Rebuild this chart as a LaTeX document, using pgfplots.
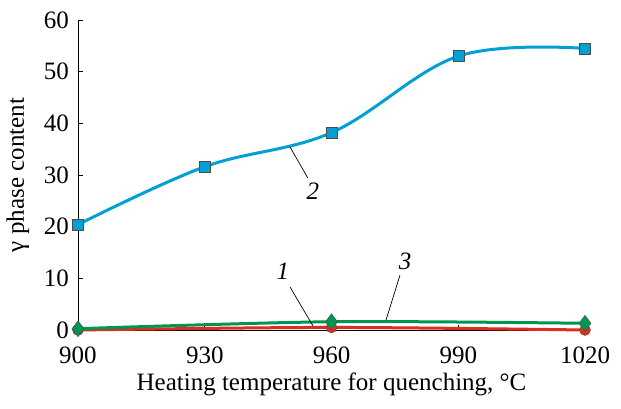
\documentclass[border=0pt]{standalone}
\usepackage{pgfplots}
\pgfplotsset{compat=1.18}
\usepackage{fontspec}
\setmainfont{Liberation Serif}
\definecolor{cblue}{RGB}{0,160,212}
\definecolor{cgreen}{RGB}{0,150,80}
\definecolor{cred}{RGB}{220,45,30}
\begin{document}
\begin{tikzpicture}
\begin{axis}[
  scale only axis, width=507pt, height=310pt,
  xmin=900, xmax=1020, ymin=0, ymax=60,
  axis lines=left, axis line style={-, line width=0.8pt},
  tick align=inside, major tick length=5pt, tick style={black, line width=0.8pt},
  xtick={900,930,960,990,1020}, ytick={0,10,...,60},
  /pgf/number format/assume math mode=true,
  /pgf/number format/set thousands separator={},
  tick label style={font=\fontsize{25}{28}\selectfont},
  label style={font=\fontsize{25}{28}\selectfont},
  xticklabel style={inner sep=1pt, yshift=-16pt},
  yticklabel style={inner sep=1pt, xshift=-8pt},
  xlabel={Heating temperature for quenching, °C},
  ylabel={γ phase content},
  xlabel style={yshift=-4pt},
  ylabel style={yshift=10pt},
  clip=false,
]
\addplot[cred, line width=3pt, smooth, mark=*, mark size=5.5pt, mark options={fill=cred, draw=black!70, line width=0.4pt}]
  coordinates {(900,0) (960,0.5) (1020,0)};
\addplot[cgreen, line width=3pt, smooth, mark=diamond*, mark size=8pt, mark options={fill=cgreen, draw=black!70, line width=0.4pt}]
  coordinates {(900,0.25) (960,1.6) (1020,1.3)};
\addplot[cblue, line width=3pt, smooth, tension=0.6, mark=square*, mark size=5.5pt, mark options={fill=cblue, draw=black!70, line width=0.4pt}]
  coordinates {(900,20.4) (930,31.6) (960,38.2) (990,53.0) (1020,54.5)};
\draw[line width=0.7pt] (axis cs:950.2,35.4) -- (axis cs:954.4,29.4);
\node[font=\fontsize{25}{28}\selectfont\itshape] at (axis cs:955.6,26.8) {2};
\draw[line width=0.7pt] (axis cs:950.2,8.3) -- (axis cs:955.6,0.8);
\node[font=\fontsize{25}{28}\selectfont\itshape] at (axis cs:948.5,11.4) {1};
\draw[line width=0.7pt] (axis cs:976.2,10.6) -- (axis cs:972.9,1.9);
\node[font=\fontsize{25}{28}\selectfont\itshape] at (axis cs:977.4,13.2) {3};
\end{axis}
\pgfresetboundingbox
\path[use as bounding box] (-78pt,-78pt) rectangle (543pt,330pt);
\end{tikzpicture}
\end{document}
